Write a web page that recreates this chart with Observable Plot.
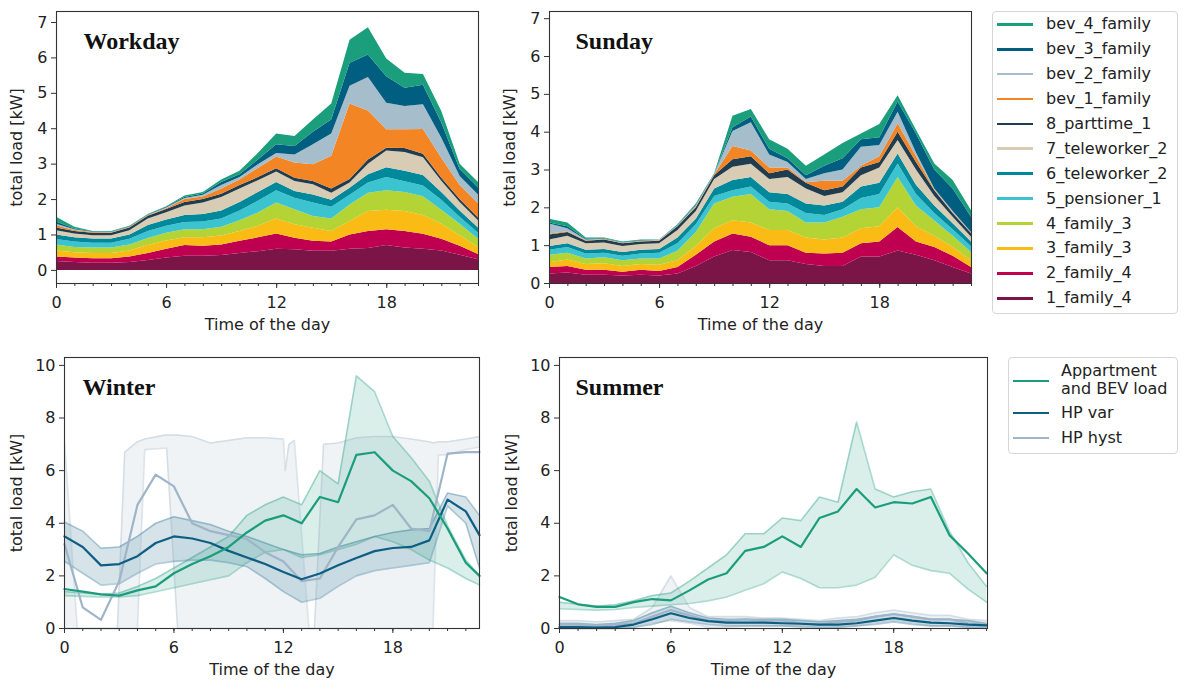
<!DOCTYPE html>
<html>
<head>
<meta charset="utf-8">
<script src="https://cdn.jsdelivr.net/npm/d3@7"></script>
<script src="https://cdn.jsdelivr.net/npm/@observablehq/plot@0.6"></script>
<style>
  html, body { margin: 0; padding: 0; background: #fff; }
  #root { position: relative; width: 1188px; height: 689px; overflow: hidden; font-family: "DejaVu Sans", sans-serif; color: #222; }
  .panel { position: absolute; }
  .legend { position: absolute; border: 1px solid #d6d6d6; border-radius: 4px; background: #fff; box-sizing: border-box; }
  .li { position: absolute; font-size: 16px; line-height: 18px; white-space: nowrap; color: #222; }
  .ls { position: absolute; height: 2.8px; }
</style>
</head>
<body>
<div id="root"></div>
<script>
// ---------- x values ----------
const hours = [0,1,2,3,4,5,6,7,8,9,10,11,12,13,14,15,16,17,18,19,20,21,22,23];
const winterHours = [0,1,2,3,4,5,6,7,8,9,10,11,12,13,14,15,16,17,18,19,20,21,22,22.75];
const majorTicks = [0, 6, 12, 18];

// ---------- stacked series (bottom to top) ----------
const seriesNames = ["1_family_4","2_family_4","3_family_3","4_family_3","5_pensioner_1","6_teleworker_2","7_teleworker_2","8_parttime_1","bev_1_family","bev_2_family","bev_3_family","bev_4_family"];
const seriesColors = ["#7b1547","#bf0050","#fbbb15","#b4d334","#3cc3d0","#00899b","#d8cdb4","#1f3d4f","#f48525","#a6bdcb","#005e80","#1a9e7c"];

// Workday loads [kW]
const wd_1_family_4    = [0.25,0.22,0.20,0.20,0.22,0.28,0.35,0.40,0.40,0.42,0.48,0.53,0.60,0.58,0.54,0.54,0.60,0.62,0.70,0.63,0.60,0.55,0.43,0.30];
const wd_2_family_4    = [0.13,0.13,0.13,0.13,0.16,0.20,0.25,0.30,0.28,0.30,0.34,0.39,0.43,0.33,0.28,0.26,0.40,0.48,0.45,0.47,0.42,0.33,0.25,0.15];
const wd_3_family_3    = [0.17,0.15,0.15,0.15,0.17,0.22,0.23,0.22,0.24,0.25,0.28,0.33,0.42,0.38,0.37,0.30,0.38,0.56,0.55,0.56,0.53,0.42,0.30,0.20];
const wd_4_family_3    = [0.17,0.15,0.15,0.15,0.17,0.20,0.22,0.23,0.23,0.25,0.30,0.37,0.45,0.42,0.33,0.35,0.47,0.52,0.55,0.54,0.53,0.40,0.32,0.23];
const wd_5_pensioner_1 = [0.15,0.15,0.14,0.14,0.16,0.20,0.20,0.20,0.22,0.23,0.28,0.33,0.35,0.33,0.38,0.33,0.27,0.29,0.37,0.30,0.30,0.28,0.20,0.17];
const wd_6_teleworker_2= [0.13,0.12,0.12,0.12,0.12,0.17,0.17,0.20,0.21,0.23,0.24,0.25,0.23,0.19,0.23,0.20,0.20,0.23,0.28,0.30,0.30,0.22,0.18,0.15];
const wd_7_teleworker_2= [0.12,0.11,0.09,0.09,0.12,0.18,0.21,0.27,0.32,0.38,0.38,0.33,0.30,0.28,0.29,0.20,0.15,0.30,0.47,0.53,0.50,0.32,0.24,0.20];
const wd_8_parttime_1  = [0.08,0.07,0.07,0.07,0.08,0.08,0.09,0.10,0.10,0.09,0.10,0.09,0.09,0.09,0.09,0.12,0.10,0.12,0.08,0.11,0.10,0.08,0.08,0.08];
const wd_bev_1_family  = [0.06,0.03,0.02,0.01,0.01,0.01,0.02,0.08,0.07,0.15,0.15,0.26,0.33,0.43,0.47,0.92,2.13,1.38,0.52,0.53,0.70,0.57,0.40,0.40];
const wd_bev_2_family  = [0.04,0.02,0.01,0.01,0.01,0.01,0.02,0.03,0.05,0.10,0.07,0.10,0.10,0.23,0.57,0.63,0.50,0.95,0.75,0.66,0.70,0.56,0.25,0.25];
const wd_bev_3_family  = [0.07,0.02,0.01,0.01,0.01,0.01,0.02,0.03,0.04,0.08,0.08,0.14,0.25,0.24,0.35,0.40,0.65,0.63,0.75,0.51,0.55,0.43,0.20,0.20];
const wd_bev_4_family  = [0.13,0.05,0.01,0.02,0.02,0.02,0.02,0.04,0.04,0.07,0.10,0.18,0.30,0.28,0.35,0.45,0.65,0.77,0.50,0.43,0.30,0.33,0.15,0.15];

// Sunday loads [kW]
const su_1_family_4    = [0.25,0.28,0.22,0.22,0.20,0.22,0.20,0.25,0.45,0.70,0.87,0.82,0.60,0.60,0.50,0.45,0.45,0.70,0.70,0.86,0.75,0.60,0.42,0.25];
const su_2_family_4    = [0.17,0.17,0.13,0.13,0.10,0.13,0.12,0.17,0.30,0.40,0.44,0.40,0.40,0.40,0.30,0.33,0.35,0.35,0.40,0.62,0.35,0.35,0.30,0.17];
const su_3_family_3    = [0.13,0.17,0.15,0.17,0.15,0.15,0.16,0.18,0.23,0.35,0.35,0.38,0.40,0.40,0.40,0.37,0.40,0.40,0.40,0.52,0.40,0.30,0.23,0.18];
const su_4_family_3    = [0.20,0.18,0.15,0.16,0.15,0.15,0.17,0.25,0.37,0.65,0.62,0.75,0.55,0.50,0.40,0.45,0.55,0.50,0.50,0.80,0.55,0.40,0.30,0.22];
const su_5_pensioner_1 = [0.13,0.15,0.13,0.12,0.12,0.13,0.15,0.20,0.20,0.20,0.17,0.20,0.20,0.20,0.25,0.20,0.20,0.30,0.35,0.36,0.30,0.20,0.17,0.15];
const su_6_teleworker_2= [0.10,0.10,0.10,0.10,0.10,0.10,0.10,0.15,0.15,0.20,0.27,0.25,0.25,0.25,0.25,0.25,0.20,0.30,0.30,0.26,0.25,0.20,0.16,0.13];
const su_7_teleworker_2= [0.17,0.20,0.17,0.17,0.16,0.15,0.15,0.20,0.20,0.25,0.35,0.35,0.35,0.45,0.40,0.25,0.25,0.30,0.40,0.36,0.40,0.25,0.17,0.12];
const su_8_parttime_1  = [0.13,0.10,0.07,0.08,0.07,0.07,0.07,0.10,0.10,0.10,0.20,0.20,0.15,0.20,0.15,0.15,0.15,0.20,0.15,0.22,0.20,0.15,0.10,0.10];
const su_bev_1_family  = [0.02,0.02,0.01,0.01,0.01,0.01,0.01,0.01,0.02,0.02,0.35,0.15,0.15,0.05,0.02,0.25,0.15,0.05,0.15,0.22,0.15,0.02,0.02,0.01];
const su_bev_2_family  = [0.27,0.08,0.02,0.01,0.01,0.01,0.01,0.01,0.03,0.01,0.40,0.75,0.35,0.15,0.08,0.20,0.30,0.50,0.30,0.31,0.10,0.03,0.03,0.02];
const su_bev_3_family  = [0.03,0.05,0.02,0.01,0.01,0.01,0.00,0.01,0.02,0.01,0.10,0.15,0.15,0.10,0.10,0.20,0.30,0.20,0.20,0.27,0.50,0.50,0.60,0.40];
const su_bev_4_family  = [0.10,0.10,0.03,0.02,0.02,0.02,0.01,0.02,0.03,0.01,0.30,0.20,0.25,0.25,0.25,0.30,0.40,0.15,0.35,0.16,0.10,0.16,0.22,0.17];

// ---------- line panels ----------
const lineNames = ["Appartment and BEV load", "HP var", "HP hyst"];
const lineColors = ["#1b9c7b", "#0e5d83", "#9fb5c7"];

// Winter (x = winterHours)
const wi_apt      = [1.5,1.4,1.3,1.25,1.45,1.6,2.1,2.45,2.75,3.1,3.65,4.1,4.3,4.0,5.0,4.8,6.6,6.7,6.0,5.6,4.95,3.8,2.5,2.0];
const wi_apt_hi   = [1.4,1.35,1.3,1.35,1.6,1.9,2.3,2.7,3.1,3.5,4.3,4.7,5.0,4.7,6.0,5.5,9.6,9.0,7.3,6.5,5.6,3.9,2.6,2.0];
const wi_apt_lo   = [1.25,1.22,1.2,1.2,1.25,1.4,1.55,1.7,1.85,2.0,2.5,2.9,3.0,2.7,2.8,3.0,3.2,3.5,3.3,3.0,2.6,2.3,1.9,1.65];
const wi_var      = [3.5,3.1,2.4,2.45,2.75,3.25,3.5,3.42,3.25,2.95,2.7,2.45,2.15,1.87,2.09,2.4,2.68,2.94,3.06,3.1,3.35,4.9,4.45,3.55];
const wi_var_hi   = [4.05,3.7,3.05,3.1,3.5,4.0,4.25,4.1,3.95,3.7,3.5,3.25,3.0,2.8,2.85,3.1,3.3,3.5,3.65,3.75,3.8,5.15,5.0,4.3];
const wi_var_lo   = [2.55,2.1,1.65,1.7,2.1,2.45,2.55,2.6,2.6,2.5,2.35,1.9,1.4,1.0,1.15,1.6,2.0,2.2,2.3,2.4,2.5,4.65,4.0,2.3];
const wi_hyst     = [3.2,0.8,0.33,1.8,4.7,5.85,5.4,4.0,3.7,3.55,3.4,2.9,2.55,1.8,1.9,3.1,4.15,4.3,4.7,3.8,3.7,6.65,6.7,6.7];
// HP hyst envelope has sharp jumps: own time stamps
const wi_hyst_band_hours = [0,0.7,2.9,3.3,4.0,4.4,5.5,5.6,6.2,7,8,9,10,11,12,12.1,12.3,12.6,13.4,13.7,14.2,15,16,17,18,19,20,20.2,20.5,21,22,22.75];
const wi_hyst_hi  = [7.1,0,0,6.7,7.1,7.2,7.35,7.35,7.35,7.3,7.05,7.15,7.25,7.25,7.2,6.0,7.0,7.15,0,0,7.0,7.05,7.25,7.3,7.3,7.2,7.1,7.05,7.1,7.1,7.2,7.3];
const wi_hyst_lo  = [0,0,0,0,0,6.8,6.85,6.85,0,0,0,0,0,0,0,0,0,0,0,0,0,0,0,0,0,0,0,0,6.6,6.6,6.8,6.9];

// Summer (x = hours)
const sm_apt     = [1.2,0.92,0.82,0.82,1.0,1.12,1.07,1.45,1.86,2.1,2.95,3.1,3.5,3.1,4.2,4.45,5.3,4.6,4.8,4.75,5.0,3.55,2.85,2.1];
const sm_apt_hi  = [1.0,0.92,0.85,0.9,1.05,1.25,1.35,1.8,2.3,2.8,3.6,3.6,4.2,4.1,5.0,4.8,7.85,5.3,5.0,5.2,5.3,3.7,2.5,1.6];
const sm_apt_lo  = [0.75,0.72,0.7,0.72,0.8,0.85,0.9,0.95,1.05,1.2,1.45,1.7,2.15,1.9,1.55,1.55,1.65,1.95,2.8,2.4,2.2,2.1,1.5,1.0];
const sm_var     = [0.05,0.05,0.03,0.05,0.15,0.35,0.58,0.4,0.28,0.22,0.22,0.22,0.2,0.18,0.15,0.15,0.2,0.3,0.4,0.3,0.22,0.2,0.15,0.12];
const sm_var_hi  = [0.2,0.2,0.15,0.2,0.3,0.6,0.85,0.6,0.4,0.35,0.35,0.35,0.35,0.3,0.25,0.3,0.35,0.45,0.55,0.45,0.35,0.35,0.3,0.2];
const sm_var_lo  = [0,0,0,0,0.05,0.15,0.35,0.25,0.15,0.1,0.1,0.1,0.1,0.08,0.05,0.05,0.1,0.15,0.25,0.15,0.1,0.1,0.05,0.05];
const sm_hyst    = [0.15,0.15,0.1,0.15,0.2,0.45,0.7,0.5,0.3,0.3,0.35,0.3,0.3,0.2,0.15,0.25,0.3,0.45,0.55,0.45,0.35,0.35,0.2,0.15];
const sm_hyst_hi = [0.3,0.3,0.25,0.3,0.35,0.8,2.0,0.8,0.45,0.45,0.45,0.4,0.4,0.35,0.3,0.4,0.45,0.6,0.7,0.6,0.5,0.5,0.35,0.3];
const sm_hyst_lo = [0,0,0,0,0.05,0.2,0.3,0.2,0.05,0.05,0.1,0.1,0.1,0.05,0,0.05,0.1,0.2,0.3,0.2,0.1,0.1,0.05,0];

// ---------- helpers ----------
const FONT = "DejaVu Sans";
const root = document.getElementById("root");

function stackRows(layers) {
  const rows = [];
  seriesNames.forEach((s, i) => hours.forEach((h, j) => rows.push({hour: h, load: layers[i][j], series: s})));
  return rows;
}
function rows3(xs, lo, mid, hi) {
  return xs.map((x, i) => ({x, lo: lo ? lo[i] : null, mid: mid ? mid[i] : null, hi: hi ? hi[i] : null}));
}
function place(svg, left, top) {
  const d = document.createElement("div");
  d.className = "panel";
  d.style.left = left + "px";
  d.style.top = top + "px";
  d.appendChild(svg);
  root.appendChild(d);
}
function axes(xMax, yTicks, labelOffsetY) {
  return [
    Plot.axisX({ticks: hours.filter(h => h <= xMax), tickSize: 3, tickFormat: () => "", label: null, stroke: "#333"}),
    Plot.axisX({ticks: majorTicks, tickSize: 5, tickPadding: 8, stroke: "#333", fill: "#222",
      label: "Time of the day", labelAnchor: "center", labelOffset: 46, labelArrow: "none"}),
    Plot.axisY({ticks: yTicks, tickSize: 5, tickPadding: 4, stroke: "#333", fill: "#222",
      label: "total load [kW]", labelAnchor: "center", labelOffset: labelOffsetY, labelArrow: "none"}),
    Plot.frame({stroke: "#333", strokeWidth: 1.1})
  ];
}
function title(t, dx) {
  return Plot.text([t], {frameAnchor: "top-left", dx, dy: 20, textAnchor: "start", lineAnchor: "top",
    fontFamily: "Liberation Serif, serif", fontWeight: "bold", fontSize: 24, fill: "#111"});
}
const baseStyle = {fontFamily: FONT, fontSize: "16px", color: "#222", background: "transparent", overflow: "visible"};

function stackPanel(layers, yDomain, yTicks, t, dx, width) {
  return Plot.plot({
    width, height: 333, marginLeft: 56, marginRight: width - 56 - 422, marginTop: 11, marginBottom: 50,
    style: baseStyle,
    x: {domain: [0, 23]},
    y: {domain: yDomain},
    color: {domain: seriesNames, range: seriesColors},
    marks: [
      Plot.areaY(stackRows(layers), {x: "hour", y: "load", fill: "series", order: seriesNames, curve: "linear"}),
      ...axes(23, yTicks, 46),
      title(t, dx)
    ]
  });
}

function linePanel(cfg) {
  const apt = rows3(cfg.xs, cfg.aptLo, cfg.apt, cfg.aptHi);
  const vr = rows3(cfg.xs, cfg.varLo, cfg.var, cfg.varHi);
  const hy = rows3(cfg.xs, null, cfg.hyst, null);
  const hyBand = rows3(cfg.hystBandXs, cfg.hystBandLo, null, cfg.hystBandHi);
  const [cA, cV, cH] = lineColors;
  return Plot.plot({
    width: cfg.width, height: 332, marginLeft: 64, marginRight: cfg.width - 64 - cfg.frameW, marginTop: 11, marginBottom: 50,
    style: baseStyle,
    x: {domain: cfg.xDomain},
    y: {domain: [0, 10.3]},
    marks: [
      Plot.areaY(hyBand, {x: "x", y1: "lo", y2: "hi", fill: cH, fillOpacity: 0.17}),
      Plot.areaY(vr, {x: "x", y1: "lo", y2: "hi", fill: cV, fillOpacity: 0.17}),
      Plot.areaY(apt, {x: "x", y1: "lo", y2: "hi", fill: cA, fillOpacity: 0.16}),
      Plot.lineY(hyBand, {x: "x", y: "hi", stroke: cH, strokeOpacity: 0.35, strokeWidth: 1.6}),
      Plot.lineY(hyBand, {x: "x", y: "lo", stroke: cH, strokeOpacity: 0.35, strokeWidth: 1.6}),
      Plot.lineY(vr, {x: "x", y: "hi", stroke: cV, strokeOpacity: 0.3, strokeWidth: 1.6}),
      Plot.lineY(vr, {x: "x", y: "lo", stroke: cV, strokeOpacity: 0.3, strokeWidth: 1.6}),
      Plot.lineY(apt, {x: "x", y: "hi", stroke: cA, strokeOpacity: 0.35, strokeWidth: 1.6}),
      Plot.lineY(apt, {x: "x", y: "lo", stroke: cA, strokeOpacity: 0.35, strokeWidth: 1.6}),
      Plot.lineY(hy, {x: "x", y: "mid", stroke: cH, strokeWidth: 2.2}),
      Plot.lineY(vr, {x: "x", y: "mid", stroke: cV, strokeWidth: 2.2}),
      Plot.lineY(apt, {x: "x", y: "mid", stroke: cA, strokeWidth: 2.2}),
      ...axes(cfg.xDomain[1], [0, 2, 4, 6, 8, 10], 54),
      title(cfg.title, cfg.dx)
    ]
  });
}

// ---------- panels ----------
place(stackPanel([wd_1_family_4, wd_2_family_4, wd_3_family_3, wd_4_family_3, wd_5_pensioner_1, wd_6_teleworker_2,
  wd_7_teleworker_2, wd_8_parttime_1, wd_bev_1_family, wd_bev_2_family, wd_bev_3_family, wd_bev_4_family],
  [-0.37, 7.31], [0,1,2,3,4,5,6,7], "Workday", 27, 490), 0, 0);

place(stackPanel([su_1_family_4, su_2_family_4, su_3_family_3, su_4_family_3, su_5_pensioner_1, su_6_teleworker_2,
  su_7_teleworker_2, su_8_parttime_1, su_bev_1_family, su_bev_2_family, su_bev_3_family, su_bev_4_family],
  [0, 7.19], [0,1,2,3,4,5,6,7], "Sunday", 26, 488), 493, 0);

place(linePanel({
  xs: winterHours, xDomain: [0, 22.75], width: 489, frameW: 415, title: "Winter", dx: 18,
  apt: wi_apt, aptLo: wi_apt_lo, aptHi: wi_apt_hi,
  var: wi_var, varLo: wi_var_lo, varHi: wi_var_hi,
  hyst: wi_hyst,
  hystBandXs: wi_hyst_band_hours, hystBandLo: wi_hyst_lo, hystBandHi: wi_hyst_hi
}), 0, 346);

place(linePanel({
  xs: hours, xDomain: [0, 23.05], width: 502, frameW: 428, title: "Summer", dx: 16,
  apt: sm_apt, aptLo: sm_apt_lo, aptHi: sm_apt_hi,
  var: sm_var, varLo: sm_var_lo, varHi: sm_var_hi,
  hyst: sm_hyst,
  hystBandXs: hours, hystBandLo: sm_hyst_lo, hystBandHi: sm_hyst_hi
}), 495, 346);

// ---------- legends ----------
function legend(left, top, w, h, items) {
  const box = document.createElement("div");
  box.className = "legend";
  Object.assign(box.style, {left: left + "px", top: top + "px", width: w + "px", height: h + "px"});
  root.appendChild(box);
  items.forEach(it => {
    const s = document.createElement("div");
    s.className = "ls";
    Object.assign(s.style, {left: it.sx + "px", top: (it.sy - 1.4) + "px", width: "36px", background: it.color});
    root.appendChild(s);
    const t = document.createElement("div");
    t.className = "li";
    t.innerHTML = it.label;
    Object.assign(t.style, {left: it.tx + "px", top: (it.ty - 9) + "px"});
    root.appendChild(t);
  });
}
const legendOrder = seriesNames.slice().reverse();
legend(992, 11, 186, 303, legendOrder.map((name, i) => ({
  label: name, color: seriesColors[seriesNames.indexOf(name)],
  sx: 997, sy: 24.3 + 24.9 * i, tx: 1046, ty: 24.3 + 24.9 * i
})));
legend(1008, 357, 170, 97, [
  {label: "Appartment<br>and BEV load", color: lineColors[0], sx: 1013, sy: 381, tx: 1061, ty: 371},
  {label: lineNames[1], color: lineColors[1], sx: 1013, sy: 413, tx: 1061, ty: 413},
  {label: lineNames[2], color: lineColors[2], sx: 1013, sy: 438, tx: 1061, ty: 438}
]);
</script>
</body>
</html>
